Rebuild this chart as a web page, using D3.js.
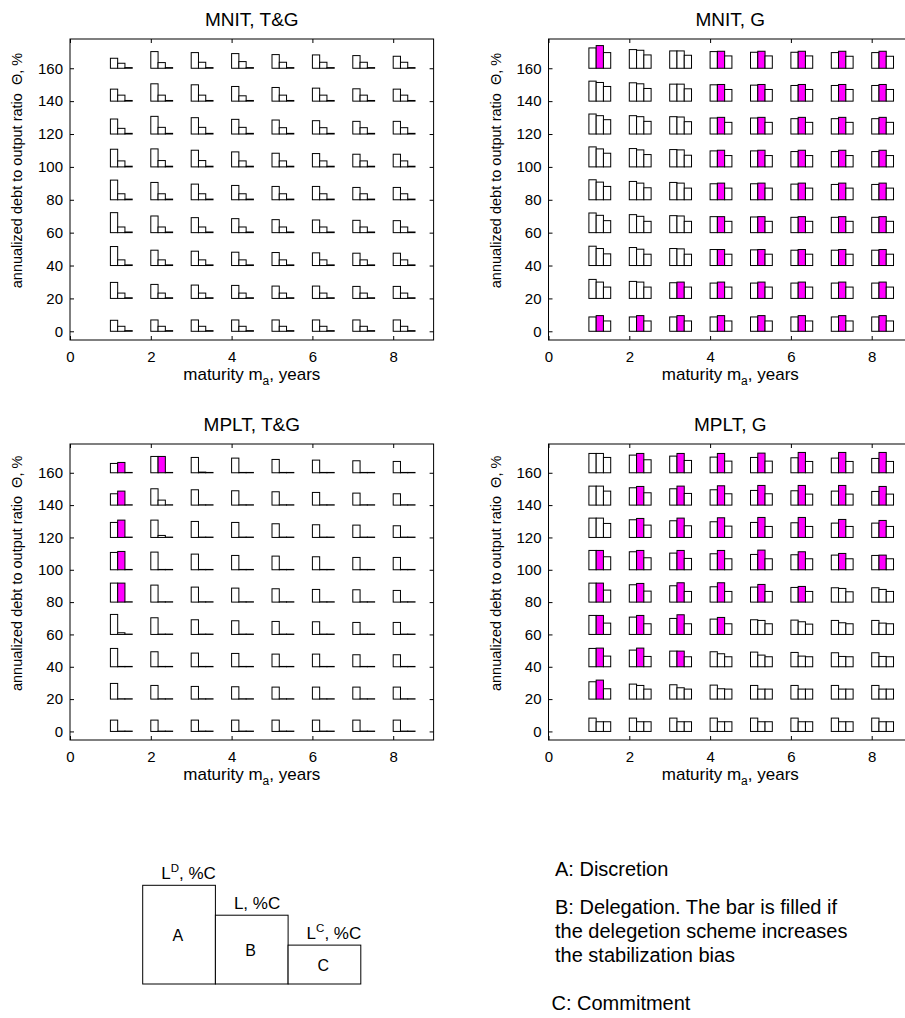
<!DOCTYPE html>
<html>
<head>
<meta charset="utf-8">
<script src="https://cdn.jsdelivr.net/npm/d3@7"></script>
<style>
  body { margin: 0; background: #fff; }
  svg text { font-family: "Liberation Sans", Arial, Helvetica, sans-serif; fill: #000; white-space: pre; }
</style>
</head>
<body>
<svg id="chart" width="905" height="1018"></svg>
<script>
// ---- grid of scenarios: maturity (years) x annualized debt-to-output ratio (%) ----
const maturities = [1, 2, 3, 4, 5, 6, 7, 8];
const debtRatios = [0, 20, 40, 60, 80, 100, 120, 140, 160];
const xTicks = [0, 2, 4, 6, 8];
const yTicks = [0, 20, 40, 60, 80, 100, 120, 140, 160];
const panelTitles = ["MNIT, T&G", "MNIT, G", "MPLT, T&G", "MPLT, G"];

// Losses in %C; rows follow debtRatios (0 -> 160), columns follow maturities (1 -> 8).
// A = discretion, B = delegation, C = commitment; filled = delegation raises the stabilization bias.

// MNIT, T&G
const mnitTG_A = [
  [33, 34, 34, 34, 34, 34, 34, 34],
  [48, 42, 40, 39, 37, 37, 36, 36],
  [57, 46, 43, 40, 39, 38, 37, 37],
  [60, 50, 45, 42, 39, 38, 37, 36],
  [59, 52, 47, 43, 40, 40, 37, 37],
  [53, 54, 50, 45, 41, 40, 38, 38],
  [45, 53, 49, 44, 42, 40, 38, 38],
  [36, 52, 49, 44, 41, 39, 37, 36],
  [30, 50, 47, 44, 41, 40, 38, 36]
];
const mnitTG_B = [
  [15, 15, 15, 15, 15, 15, 15, 15],
  [16, 16, 16, 16, 16, 16, 16, 16],
  [17, 17, 17, 17, 17, 17, 17, 17],
  [17, 17, 17, 17, 17, 17, 17, 17],
  [18, 18, 18, 18, 18, 18, 18, 18],
  [18, 19, 19, 18, 18, 18, 18, 18],
  [17, 20, 20, 20, 19, 19, 19, 19],
  [18, 18, 18, 16, 18, 18, 18, 18],
  [15, 17, 18, 20, 18, 18, 18, 18]
];
const mnitTG_C = [
  [2, 2, 2, 2, 2, 2, 2, 2],
  [2, 2, 2, 2, 2, 2, 2, 2],
  [2, 2, 2, 2, 2, 2, 2, 2],
  [2, 2, 2, 2, 2, 2, 2, 2],
  [2, 2, 2, 2, 2, 2, 2, 2],
  [2, 2, 2, 2, 2, 2, 2, 2],
  [2, 2, 2, 2, 2, 2, 2, 2],
  [2, 2, 2, 2, 2, 2, 2, 2],
  [2, 2, 2, 2, 2, 2, 2, 2]
];
const mnitTG_filled = [
  [0, 0, 0, 0, 0, 0, 0, 0],
  [0, 0, 0, 0, 0, 0, 0, 0],
  [0, 0, 0, 0, 0, 0, 0, 0],
  [0, 0, 0, 0, 0, 0, 0, 0],
  [0, 0, 0, 0, 0, 0, 0, 0],
  [0, 0, 0, 0, 0, 0, 0, 0],
  [0, 0, 0, 0, 0, 0, 0, 0],
  [0, 0, 0, 0, 0, 0, 0, 0],
  [0, 0, 0, 0, 0, 0, 0, 0]
];

// MNIT, G
const mnitG_A = [
  [43, 43, 43, 43, 43, 43, 43, 43],
  [57, 51, 47, 46, 46, 46, 46, 46],
  [58, 54, 51, 48, 47, 46, 46, 46],
  [59, 54, 51, 48, 47, 46, 46, 46],
  [60, 55, 52, 48, 48, 47, 46, 46],
  [60, 55, 52, 48, 48, 46, 46, 46],
  [60, 55, 52, 48, 48, 46, 46, 46],
  [60, 55, 51, 49, 48, 47, 47, 47],
  [61, 56, 52, 50, 48, 48, 47, 47]
];
const mnitG_B = [
  [47, 47, 47, 47, 47, 47, 47, 47],
  [49, 49, 49, 49, 49, 49, 49, 49],
  [51, 49, 50, 48, 48, 48, 48, 48],
  [52, 49, 50, 48, 48, 48, 48, 48],
  [53, 50, 50, 50, 50, 50, 50, 50],
  [54, 51, 51, 50, 50, 50, 50, 50],
  [55, 52, 51, 50, 50, 50, 50, 50],
  [56, 52, 51, 50, 50, 50, 50, 50],
  [68, 54, 52, 51, 51, 51, 51, 51]
];
const mnitG_C = [
  [31, 31, 31, 31, 31, 31, 31, 31],
  [34, 34, 34, 34, 34, 34, 34, 34],
  [35, 34, 34, 34, 34, 34, 34, 34],
  [36, 34, 34, 34, 34, 34, 34, 34],
  [40, 36, 35, 35, 35, 35, 35, 35],
  [41, 37, 35, 34, 34, 34, 34, 34],
  [43, 38, 37, 35, 35, 35, 35, 35],
  [44, 38, 37, 35, 35, 35, 35, 35],
  [47, 40, 39, 37, 37, 37, 36, 36]
];
const mnitG_filled = [
  [1, 1, 1, 1, 1, 1, 1, 1],
  [0, 0, 1, 1, 1, 1, 1, 1],
  [0, 0, 0, 1, 1, 1, 1, 1],
  [0, 0, 0, 1, 1, 1, 1, 1],
  [0, 0, 0, 1, 1, 1, 1, 1],
  [0, 0, 0, 1, 1, 1, 1, 1],
  [0, 0, 0, 1, 1, 1, 1, 1],
  [0, 0, 0, 1, 1, 1, 1, 1],
  [1, 0, 0, 1, 1, 1, 1, 1]
];

// MPLT, T&G
const mpltTG_A = [
  [34, 34, 34, 34, 34, 34, 34, 34],
  [47, 41, 38, 37, 36, 36, 36, 36],
  [55, 45, 41, 40, 38, 38, 36, 36],
  [60, 50, 44, 41, 39, 38, 36, 36],
  [57, 51, 45, 42, 40, 38, 37, 35],
  [52, 53, 47, 43, 41, 39, 37, 37],
  [45, 52, 48, 45, 41, 38, 37, 35],
  [34, 49, 46, 43, 40, 38, 36, 34],
  [28, 49, 46, 44, 40, 38, 36, 34]
];
const mpltTG_B = [
  [1, 1, 1, 1, 1, 1, 1, 1],
  [1, 1, 1, 1, 1, 1, 1, 1],
  [1, 1, 1, 1, 1, 1, 1, 1],
  [5, 1, 1, 1, 1, 1, 1, 1],
  [57, 1, 1, 1, 1, 1, 1, 1],
  [55, 1, 1, 1, 1, 1, 1, 1],
  [52, 6, 1, 1, 1, 1, 1, 1],
  [42, 15, 1, 1, 1, 1, 1, 1],
  [31, 49, 2, 1, 1, 1, 1, 1]
];
const mpltTG_C = [
  [1, 1, 1, 1, 1, 1, 1, 1],
  [1, 1, 1, 1, 1, 1, 1, 1],
  [1, 1, 1, 1, 1, 1, 1, 1],
  [1, 1, 1, 1, 1, 1, 1, 1],
  [1, 1, 1, 1, 1, 1, 1, 1],
  [1, 1, 1, 1, 1, 1, 1, 1],
  [1, 1, 1, 1, 1, 1, 1, 1],
  [1, 1, 1, 1, 1, 1, 1, 1],
  [1, 1, 1, 1, 1, 1, 1, 1]
];
const mpltTG_filled = [
  [0, 0, 0, 0, 0, 0, 0, 0],
  [0, 0, 0, 0, 0, 0, 0, 0],
  [0, 0, 0, 0, 0, 0, 0, 0],
  [0, 0, 0, 0, 0, 0, 0, 0],
  [1, 0, 0, 0, 0, 0, 0, 0],
  [1, 0, 0, 0, 0, 0, 0, 0],
  [1, 0, 0, 0, 0, 0, 0, 0],
  [1, 0, 0, 0, 0, 0, 0, 0],
  [1, 1, 0, 0, 0, 0, 0, 0]
];

// MPLT, G
const mpltG_A = [
  [40, 40, 40, 40, 40, 40, 40, 40],
  [52, 45, 43, 42, 41, 41, 41, 41],
  [55, 50, 47, 45, 44, 43, 42, 42],
  [57, 52, 48, 46, 44, 43, 42, 42],
  [57, 52, 49, 46, 45, 44, 43, 43],
  [58, 54, 50, 48, 46, 45, 44, 43],
  [58, 53, 50, 47, 45, 44, 43, 43],
  [57, 52, 49, 46, 44, 43, 42, 41],
  [58, 53, 50, 47, 46, 45, 44, 43]
];
const mpltG_B = [
  [29, 29, 29, 29, 29, 29, 29, 29],
  [57, 41, 34, 31, 30, 30, 30, 30],
  [56, 56, 47, 39, 35, 32, 31, 31],
  [57, 57, 59, 51, 42, 38, 35, 34],
  [57, 56, 58, 58, 53, 47, 41, 38],
  [58, 58, 58, 58, 59, 54, 49, 44],
  [58, 57, 58, 59, 60, 60, 54, 51],
  [57, 56, 57, 58, 59, 59, 59, 56],
  [58, 58, 58, 58, 59, 61, 61, 61]
];
const mpltG_C = [
  [29, 29, 29, 29, 29, 29, 29, 29],
  [31, 30, 30, 30, 30, 30, 30, 30],
  [32, 31, 30, 30, 30, 30, 30, 30],
  [34, 32, 32, 32, 32, 31, 32, 32],
  [36, 33, 32, 32, 32, 32, 31, 32],
  [39, 36, 34, 33, 33, 33, 33, 33],
  [42, 37, 35, 34, 33, 33, 33, 33],
  [42, 37, 35, 34, 34, 33, 33, 33],
  [46, 39, 37, 35, 35, 34, 34, 34]
];
const mpltG_filled = [
  [0, 0, 0, 0, 0, 0, 0, 0],
  [1, 0, 0, 0, 0, 0, 0, 0],
  [1, 1, 1, 0, 0, 0, 0, 0],
  [1, 1, 1, 1, 0, 0, 0, 0],
  [1, 1, 1, 1, 1, 1, 0, 0],
  [1, 1, 1, 1, 1, 1, 1, 1],
  [0, 1, 1, 1, 1, 1, 1, 1],
  [0, 1, 1, 1, 1, 1, 1, 1],
  [0, 1, 1, 1, 1, 1, 1, 1]
];

// Schematic legend: relative losses of the three regimes
const legendRegimes = ["A", "B", "C"];
const legendValues = [99, 69, 39];
const legendNotes = [
  ["A: Discretion"],
  ["B: Delegation. The bar is filled if", "the delegetion scheme increases", "the stabilization bias"],
  ["C: Commitment"]
];

// ---- layout ----
const svg = d3.select("#chart");
const FILL = "#ff00ff";
const xDomain = [0, 9];
const yDomain = [-5.3, 177.8];
const plotW = 363.6;
const barW = 0.18;          // width of one bar, in maturity units
const barH = d3.scaleLinear().domain([0, 60]).range([0, 20]);   // %C -> px

const panels = [
  { title: panelTitles[0], left: 70,    top: 39,  height: 301, A: mnitTG_A, B: mnitTG_B, C: mnitTG_C, F: mnitTG_filled },
  { title: panelTitles[1], left: 548.5, top: 39,  height: 301, A: mnitG_A,  B: mnitG_B,  C: mnitG_C,  F: mnitG_filled },
  { title: panelTitles[2], left: 70,    top: 444, height: 296, A: mpltTG_A, B: mpltTG_B, C: mpltTG_C, F: mpltTG_filled },
  { title: panelTitles[3], left: 548.5, top: 444, height: 296, A: mpltG_A,  B: mpltG_B,  C: mpltG_C,  F: mpltG_filled }
];

function styleAxis(g, fontSize) {
  g.select(".domain").remove();
  g.selectAll(".tick line").attr("stroke", "#000").attr("stroke-width", 1);
  g.selectAll(".tick text")
    .attr("font-size", fontSize)
    .attr("font-family", "Liberation Sans, Arial, sans-serif")
    .attr("fill", "#000");
}

function drawPanel(p) {
  const x = d3.scaleLinear().domain(xDomain).range([p.left, p.left + plotW]);
  const y = d3.scaleLinear().domain(yDomain).range([p.top + p.height, p.top]);
  const g = svg.append("g");

  // bars
  const bars = [];
  debtRatios.forEach((theta, i) => {
    maturities.forEach((m, j) => {
      [p.A[i][j], p.B[i][j], p.C[i][j]].forEach((v, k) => {
        bars.push({ m, theta, k, v, filled: k === 1 && p.F[i][j] === 1 });
      });
    });
  });
  g.append("g").selectAll("rect").data(bars).join("rect")
    .attr("x", d => x(d.m + d.k * barW))
    .attr("width", d => x(d.m + (d.k + 1) * barW) - x(d.m + d.k * barW))
    .attr("y", d => y(d.theta) - barH(d.v))
    .attr("height", d => barH(d.v))
    .attr("fill", d => d.filled ? FILL : "#fff")
    .attr("stroke", "#000")
    .attr("stroke-width", 1);

  // axes with inward ticks on all four sides
  const tick = 4;
  const bottom = g.append("g").attr("transform", `translate(0,${y(yDomain[0])})`)
    .call(d3.axisBottom(x).tickValues(xTicks).tickSizeInner(-tick).tickSizeOuter(0).tickPadding(11));
  styleAxis(bottom, 15);
  const top = g.append("g").attr("transform", `translate(0,${y(yDomain[1])})`)
    .call(d3.axisTop(x).tickValues(xTicks).tickSizeInner(-tick).tickSizeOuter(0).tickFormat(""));
  styleAxis(top, 15);
  const left = g.append("g").attr("transform", `translate(${x(xDomain[0])},0)`)
    .call(d3.axisLeft(y).tickValues(yTicks).tickSizeInner(-tick).tickSizeOuter(0).tickPadding(7));
  styleAxis(left, 15);
  const right = g.append("g").attr("transform", `translate(${x(xDomain[1])},0)`)
    .call(d3.axisRight(y).tickValues(yTicks).tickSizeInner(-tick).tickSizeOuter(0).tickFormat(""));
  styleAxis(right, 15);

  // frame
  g.append("rect")
    .attr("x", x(xDomain[0])).attr("y", y(yDomain[1]))
    .attr("width", x(xDomain[1]) - x(xDomain[0]))
    .attr("height", y(yDomain[0]) - y(yDomain[1]))
    .attr("fill", "none").attr("stroke", "#000").attr("stroke-width", 1);

  // title
  g.append("text")
    .attr("x", p.left + plotW / 2)
    .attr("y", p.top - 13.5)
    .attr("text-anchor", "middle")
    .attr("font-size", 19)
    .text(p.title);

  // x label with subscript
  const xl = g.append("text")
    .attr("x", p.left + plotW / 2)
    .attr("y", y(yDomain[0]) + 40)
    .attr("text-anchor", "middle")
    .attr("font-size", 17);
  xl.append("tspan").text("maturity m");
  xl.append("tspan").attr("dy", 5).attr("font-size", 12).text("a");
  xl.append("tspan").attr("dy", -5).text(", years");

  // y label
  const cy = p.top + p.height * 0.437;
  g.append("text")
    .attr("transform", `translate(${p.left - 48},${cy}) rotate(-90)`)
    .attr("text-anchor", "middle")
    .attr("font-size", 14.5)
    .text("annualized debt to output ratio  \u0398, %");
}

panels.forEach(drawPanel);

// ---- legend: schematic bar group ----
const lx = d3.scaleBand().domain(legendRegimes).range([142.7, 360.8]).padding(0);
const lh = d3.scaleLinear().domain([0, 100]).range([0, 99.7]);
const legendBase = 984;
const lg = svg.append("g");
lg.selectAll("rect").data(legendRegimes).join("rect")
  .attr("x", d => lx(d))
  .attr("width", lx.bandwidth())
  .attr("y", (d, i) => legendBase - lh(legendValues[i]))
  .attr("height", (d, i) => lh(legendValues[i]))
  .attr("fill", "#fff").attr("stroke", "#000").attr("stroke-width", 1);

// regime letters inside
lg.selectAll("text.letter").data(legendRegimes).join("text")
  .attr("class", "letter")
  .attr("x", d => lx(d) + lx.bandwidth() / 2 - 1.2)
  .attr("y", (d, i) => legendBase - lh(legendValues[i]) / 2 + 6.5)
  .attr("text-anchor", "middle")
  .attr("font-size", 16)
  .text(d => d);

// labels above each bar
const supers = ["D", "", "C"];
legendRegimes.forEach((d, i) => {
  const t = lg.append("text")
    .attr("x", lx(d) + 18.5)
    .attr("y", legendBase - lh(legendValues[i]) - 6)
    .attr("text-anchor", "start")
    .attr("font-size", 17);
  t.append("tspan").text("L");
  if (supers[i]) {
    t.append("tspan").attr("dy", -7).attr("font-size", 11.5).text(supers[i]);
    t.append("tspan").attr("dy", 7).text(", %C");
  } else {
    t.append("tspan").text(", %C");
  }
});

// explanatory notes
const noteX = [555, 555, 551.5];
const noteBaselines = [[876], [914, 938.3, 961.7], [1010]];
legendNotes.forEach((lines, i) => {
  lines.forEach((line, j) => {
    svg.append("text")
      .attr("x", noteX[i])
      .attr("y", noteBaselines[i][j])
      .attr("font-size", 20)
      .text(line);
  });
});
</script>
</body>
</html>
